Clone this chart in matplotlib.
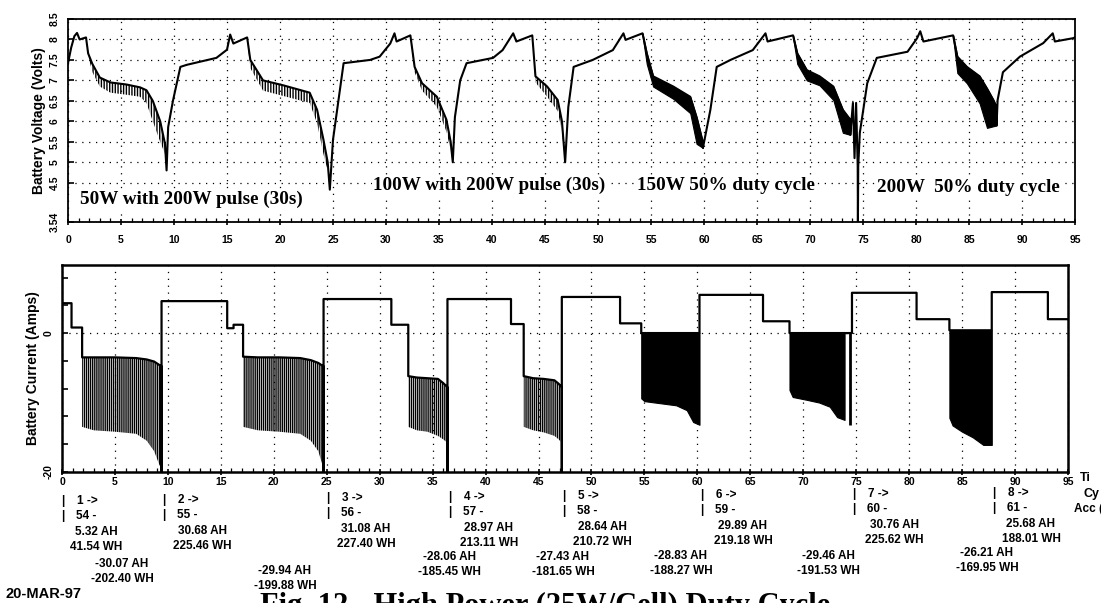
import matplotlib
matplotlib.use('Agg')
import matplotlib.pyplot as plt
from matplotlib.ticker import MultipleLocator, FixedLocator

W, H = 1101, 603
SANS = ['Liberation Sans', 'DejaVu Sans']
SERIF = ['Liberation Serif', 'DejaVu Serif']
plt.rcParams['hatch.linewidth'] = 1.0

# ---- battery voltage (hours, volts)
# charge segments: chg0 .. chg7
V_CHG_T = [[0, 0.3, 0.6, 0.85, 1.1, 1.7],
           [9.3, 9.45, 9.9, 10.6, 11.2, 14.0, 15.0, 15.3, 15.6, 16.9],
           [24.7, 25.0, 26.0, 28.5, 29.4, 30.4, 30.8, 31.0, 32.3],
           [36.3, 36.5, 37.0, 37.6, 40.1, 41.0, 42.0, 42.3, 43.8],
           [46.9, 47.2, 47.7, 49.5, 51.4, 52.4, 52.6, 54.2],
           [59.9, 60.6, 61.2, 62.5, 64.6, 65.8, 66.0, 68.4],
           [73.8, 74.05, 74.2, 74.35, 74.5, 74.52, 74.55, 74.7, 75.4, 76.3, 79.2, 80.1, 80.4, 80.7, 83.5],
           [87.6, 87.7, 88.2, 89.8, 92.0, 92.9, 93.1, 94.8, 95.0]]
V_CHG_V = [[7.42, 7.8, 8.08, 8.16, 8.0, 8.05],
           [4.8, 5.86, 6.5, 7.33, 7.38, 7.55, 7.75, 8.12, 7.9, 8.05],
           [4.33, 5.55, 7.42, 7.5, 7.58, 7.9, 8.15, 7.95, 8.1],
           [5.0, 6.1, 7.0, 7.42, 7.55, 7.74, 8.15, 7.95, 8.1],
           [5.0, 6.35, 7.33, 7.5, 7.74, 8.15, 7.99, 8.15],
           [5.35, 6.28, 7.33, 7.5, 7.74, 8.15, 7.95, 8.1],
           [5.67, 6.45, 5.1, 6.45, 4.9, 3.54, 4.9, 5.72, 6.93, 7.55, 7.7, 8.03, 8.2, 7.95, 8.1],
           [5.9, 6.52, 7.2, 7.58, 7.91, 8.15, 7.95, 8.03, 8.05]]
# discharge segments: dis1 .. dis7 (upper trace and bottom of the pulse band)
V_DIS_T = [[1.9, 2.3, 3.0, 4.0, 5.5, 6.8, 7.4, 8.0, 8.7, 9.15, 9.3],
           [16.9, 17.2, 18.4, 20.3, 22.8, 23.5, 24.1, 24.5, 24.7],
           [32.3, 32.7, 33.4, 34.8, 35.7, 36.1, 36.3],
           [43.8, 44.1, 45.2, 46.2, 46.6, 46.9],
           [54.2, 54.6, 55.2, 57.1, 58.7, 59.3, 59.9],
           [68.4, 68.8, 69.7, 70.9, 72.2, 73.1, 73.8],
           [83.5, 83.9, 84.8, 86.0, 86.7, 87.3, 87.6]]
V_DIS_HI = [[7.66, 7.4, 7.07, 6.95, 6.9, 6.83, 6.76, 6.5, 6.0, 5.45, 4.8],
            [8.05, 7.5, 7.0, 6.88, 6.7, 6.28, 5.55, 5.0, 4.33],
            [8.1, 7.33, 6.93, 6.6, 6.04, 5.5, 5.0],
            [8.1, 7.1, 6.85, 6.52, 6.0, 5.0],
            [8.15, 7.66, 7.1, 6.85, 6.6, 6.1, 5.48],
            [8.1, 7.66, 7.25, 7.1, 6.85, 6.28, 6.04],
            [8.1, 7.58, 7.33, 7.1, 6.8, 6.52, 6.35]]
V_DIS_LO = [[7.6, 7.2, 6.85, 6.7, 6.65, 6.6, 6.45, 6.0, 5.5, 5.2, 4.8],
            [8.0, 7.3, 6.75, 6.62, 6.45, 5.95, 5.2, 4.8, 4.33],
            [8.05, 7.2, 6.75, 6.35, 5.75, 5.3, 5.0],
            [8.05, 6.95, 6.6, 6.25, 5.75, 5.0],
            [8.1, 7.4, 6.85, 6.55, 6.2, 5.45, 5.35],
            [8.05, 7.4, 7.0, 6.88, 6.52, 5.72, 5.67],
            [8.05, 7.18, 6.93, 6.44, 5.84, 5.88, 5.9]]
DUTY = [False, False, False, False, True, True, True]   # 50% duty cycle -> solid band

# ---- battery current (hours, amps)
I_CHG_T = [[0, 0.9, 0.9, 1.9],
           [9.4, 9.4, 15.6, 15.6, 16.2, 16.2, 17.1],
           [24.7, 24.7, 31.1, 31.1, 32.7],
           [36.4, 36.4, 42.4, 42.4, 43.6],
           [47.2, 47.2, 52.7, 52.7, 54.7],
           [60.2, 66.2, 66.2, 68.7],
           [74.6, 74.6, 80.7, 80.7, 83.8],
           [87.8, 93.1, 93.1, 95.0]]
I_CHG_I = [[4.3, 4.3, 0.8, 0.8],
           [-20, 4.6, 4.6, 0.7, 0.7, 1.2, 1.2],
           [-20, 4.9, 4.9, 1.2, 1.2],
           [-20, 4.9, 4.9, 1.3, 1.3],
           [-20, 5.2, 5.2, 1.4, 1.4],
           [5.5, 5.5, 1.7, 1.7],
           [0.0, 5.8, 5.8, 2.0, 2.0],
           [5.9, 5.9, 2.0, 2.0]]
I_DIS_T = [[1.9, 3.0, 5.0, 7.0, 8.0, 8.7, 9.2, 9.4],
           [17.1, 18.5, 20.5, 22.5, 23.5, 24.2, 24.7],
           [32.7, 33.5, 34.5, 35.5, 36.0, 36.4],
           [43.6, 44.5, 45.5, 46.5, 46.9, 47.2],
           [54.7, 55.0, 56.5, 58.0, 59.0, 59.6, 60.2],
           [68.7, 69.0, 70.3, 71.5, 72.5, 73.2, 73.9],
           [83.8, 84.1, 85.0, 86.0, 87.0, 87.8]]
I_DIS_HI = [[-3.5, -3.5, -3.5, -3.6, -3.8, -4.1, -4.6, -4.8],
            [-3.4, -3.5, -3.5, -3.6, -3.9, -4.3, -4.8],
            [-6.2, -6.4, -6.5, -6.6, -7.2, -7.8],
            [-6.2, -6.5, -6.6, -6.8, -7.3, -7.8],
            [0, 0, 0, 0, 0, 0, 0],
            [0, 0, 0, 0, 0, 0, 0],
            [0.4, 0.4, 0.4, 0.4, 0.4, 0.4]]
I_DIS_LO = [[-13.5, -14.0, -14.2, -14.5, -15.5, -17.0, -19.0, -19.5],
            [-13.5, -14.0, -14.2, -14.5, -15.5, -17.0, -19.5],
            [-13.5, -14.0, -14.2, -14.8, -15.3, -15.8],
            [-13.5, -14.0, -14.3, -14.8, -15.3, -15.8],
            [-9.4, -9.8, -10.1, -10.4, -11.1, -12.8, -13.2],
            [-8.2, -9.2, -9.6, -10.0, -10.6, -12.1, -12.5],
            [-12.2, -13.3, -14.2, -15.0, -16.1, -16.1]]
SPIKE_T, SPIKE_LO = 74.4, -13.3

# ---- cycle summary printed under the current plot
CYC_NO = ['1', '2', '3', '4', '5', '6', '7', '8']
CYC_ID = ['54', '55', '56', '57', '58', '59', '60', '61']
CHG_AH = ['5.32', '30.68', '31.08', '28.97', '28.64', '29.89', '30.76', '25.68']
CHG_WH = ['41.54', '225.46', '227.40', '213.11', '210.72', '219.18', '225.62', '188.01']
DIS_AH = ['-30.07', '-29.94', '-28.06', '-27.43', '-28.83', '-29.46', '-26.21']
DIS_WH = ['-202.40', '-199.88', '-185.45', '-181.65', '-188.27', '-191.53', '-169.95']

# layout of that text block (pixels)
BAR_X = [62, 163, 327, 449, 563, 701, 853, 993]
ROW_Y = [501, 500, 498, 497, 496, 495, 494, 493]
CHG_X = [96, 202, 366, 489, 602, 743, 894, 1031]
DIS_X = [122, 285, 449, 563, 681, 828, 987]
DIS_Y = [564, 571, 557, 557, 556, 556, 553]

fig = plt.figure(figsize=(W / 100, H / 100), dpi=100)
fig.patch.set_facecolor('white')
axv = fig.add_axes([68 / W, 1 - 222 / H, (1075 - 68) / W, (222 - 19) / H])
axi = fig.add_axes([62 / W, 1 - 472 / H, (1068 - 62) / W, (472 - 265) / H])

def ptxt(x, y, s, **kw):
    kw.setdefault('family', SANS); kw.setdefault('fontweight', 'bold')
    kw.setdefault('va', 'center')
    fig.text(x / W, 1 - y / H, s, **kw)

DOT = (0, (1, 4.5))

# ---------------- voltage panel
vt, vv = [], []
for k in range(len(V_CHG_T)):
    vt += V_CHG_T[k]; vv += V_CHG_V[k]
    if k < len(V_DIS_T):
        vt += V_DIS_T[k]; vv += V_DIS_HI[k]
for k in range(len(V_DIS_T)):
    if DUTY[k]:
        axv.fill_between(V_DIS_T[k], V_DIS_LO[k], V_DIS_HI[k], color='black', lw=0.8, zorder=3)
    else:
        axv.fill_between(V_DIS_T[k], V_DIS_LO[k], V_DIS_HI[k], facecolor='none',
                         edgecolor='black', hatch='||||||', lw=0, zorder=3)
axv.plot(vt, vv, color='black', lw=1.5, zorder=4)

axv.set_xlim(0, 95); axv.set_ylim(3.54, 8.5)
axv.xaxis.set_major_locator(MultipleLocator(5)); axv.xaxis.set_minor_locator(MultipleLocator(1))
vticks = [3.54, 4.5, 5, 5.5, 6, 6.5, 7, 7.5, 8, 8.5]
axv.yaxis.set_major_locator(FixedLocator(vticks))
axv.set_yticklabels(['3.54', '4.5', '5', '5.5', '6', '6.5', '7', '7.5', '8', '8.5'],
                    rotation=90, va='center', family=SANS, fontweight='bold', fontsize=7.5)
axv.set_xticklabels([str(int(v)) for v in axv.get_xticks()], family=SANS, fontweight='bold', fontsize=7.5)
axv.tick_params(axis='x', which='major', direction='inout', length=5, width=1.2, pad=7)
axv.tick_params(axis='x', which='minor', direction='in', length=3, width=0.9)
axv.tick_params(axis='y', direction='in', length=4, width=1.2, pad=6)
axv.grid(True, which='major', color='black', lw=0.9, ls=DOT)
for s in axv.spines.values():
    s.set_linewidth(1.3)
axv.set_ylabel('Battery Voltage (Volts)', family=SANS, fontweight='bold', fontsize=10, labelpad=3)

LAB = dict(family=SERIF, fontweight='bold', fontsize=13.8, va='center', zorder=5,
           bbox=dict(facecolor='white', edgecolor='none', pad=1))
axv.text(1.1, 4.1, '50W with 200W pulse (30s)', **LAB)
axv.text(28.8, 4.43, '100W with 200W pulse (30s)', **LAB)
axv.text(53.7, 4.43, '150W 50% duty cycle', **LAB)
axv.text(76.3, 4.38, '200W  50% duty cycle', **LAB)

# ---------------- current panel
it, iv = [], []
for k in range(len(I_CHG_T)):
    it += I_CHG_T[k]; iv += I_CHG_I[k]
    if k < len(I_DIS_T):
        it += I_DIS_T[k]; iv += I_DIS_HI[k]
for k in range(len(I_DIS_T)):
    if DUTY[k]:
        axi.fill_between(I_DIS_T[k], I_DIS_LO[k], I_DIS_HI[k], color='black', lw=0.8, zorder=3)
    else:
        axi.fill_between(I_DIS_T[k], I_DIS_LO[k], I_DIS_HI[k], facecolor='none',
                         edgecolor='black', hatch='||||||||', lw=0, zorder=3)
axi.vlines(SPIKE_T, SPIKE_LO, 0, color='black', lw=2, zorder=3)
axi.plot(it, iv, color='black', lw=1.6, zorder=4)

axi.set_xlim(0, 95); axi.set_ylim(-20, 9.8)
axi.xaxis.set_major_locator(MultipleLocator(5)); axi.xaxis.set_minor_locator(MultipleLocator(1))
axi.yaxis.set_major_locator(MultipleLocator(4))
axi.set_yticklabels(['-20' if v == -20 else ('0' if v == 0 else '') for v in axi.get_yticks()],
                    rotation=90, va='center', family=SANS, fontweight='bold', fontsize=7.5)
axi.set_xticklabels([str(int(v)) for v in axi.get_xticks()], family=SANS, fontweight='bold', fontsize=7.5)
axi.tick_params(axis='x', which='major', direction='inout', length=5, width=1.2, pad=1)
axi.tick_params(axis='x', which='minor', direction='in', length=3, width=0.9)
axi.tick_params(axis='y', direction='in', length=4, width=1.2, pad=6)
axi.grid(True, axis='x', which='major', color='black', lw=0.9, ls=DOT)
axi.axhline(0, color='black', lw=0.9, ls=DOT, zorder=1)
for s in axi.spines.values():
    s.set_linewidth(1.8)
axi.set_ylabel('Battery Current (Amps)', family=SANS, fontweight='bold', fontsize=10, labelpad=3)

# ---------------- cycle summary
FS = 8.5
for k in range(len(CYC_NO)):
    y0 = ROW_Y[k]
    ptxt(BAR_X[k] - 1, y0, '|', fontsize=FS)
    ptxt(BAR_X[k] - 1, y0 + 15, '|', fontsize=FS)
    ptxt(BAR_X[k] + 15, y0, CYC_NO[k] + ' ->', fontsize=FS)
    ptxt(BAR_X[k] + 14, y0 + 15, CYC_ID[k] + ' -', fontsize=FS)
    ptxt(CHG_X[k], y0 + 31, CHG_AH[k] + ' AH', fontsize=FS, ha='center')
    ptxt(CHG_X[k], y0 + 46, CHG_WH[k] + ' WH', fontsize=FS, ha='center')
for k in range(len(DIS_AH)):
    ptxt(DIS_X[k], DIS_Y[k], DIS_AH[k] + ' AH', fontsize=FS, ha='center')
    ptxt(DIS_X[k], DIS_Y[k] + 15, DIS_WH[k] + ' WH', fontsize=FS, ha='center')
ptxt(1080, 478, 'Ti', fontsize=9)
ptxt(1083, 494, 'Cy', fontsize=9)
ptxt(1074, 509, 'Acc (', fontsize=8.5)
ptxt(5, 594, '20-MAR-97', fontsize=10.5)
ptxt(545, 592, 'Fig. 12 - High Power (25W/Cell) Duty Cycle', family=SERIF, fontsize=22,
     ha='center', va='top')

fig.savefig('out.png', dpi=100, facecolor='white')
